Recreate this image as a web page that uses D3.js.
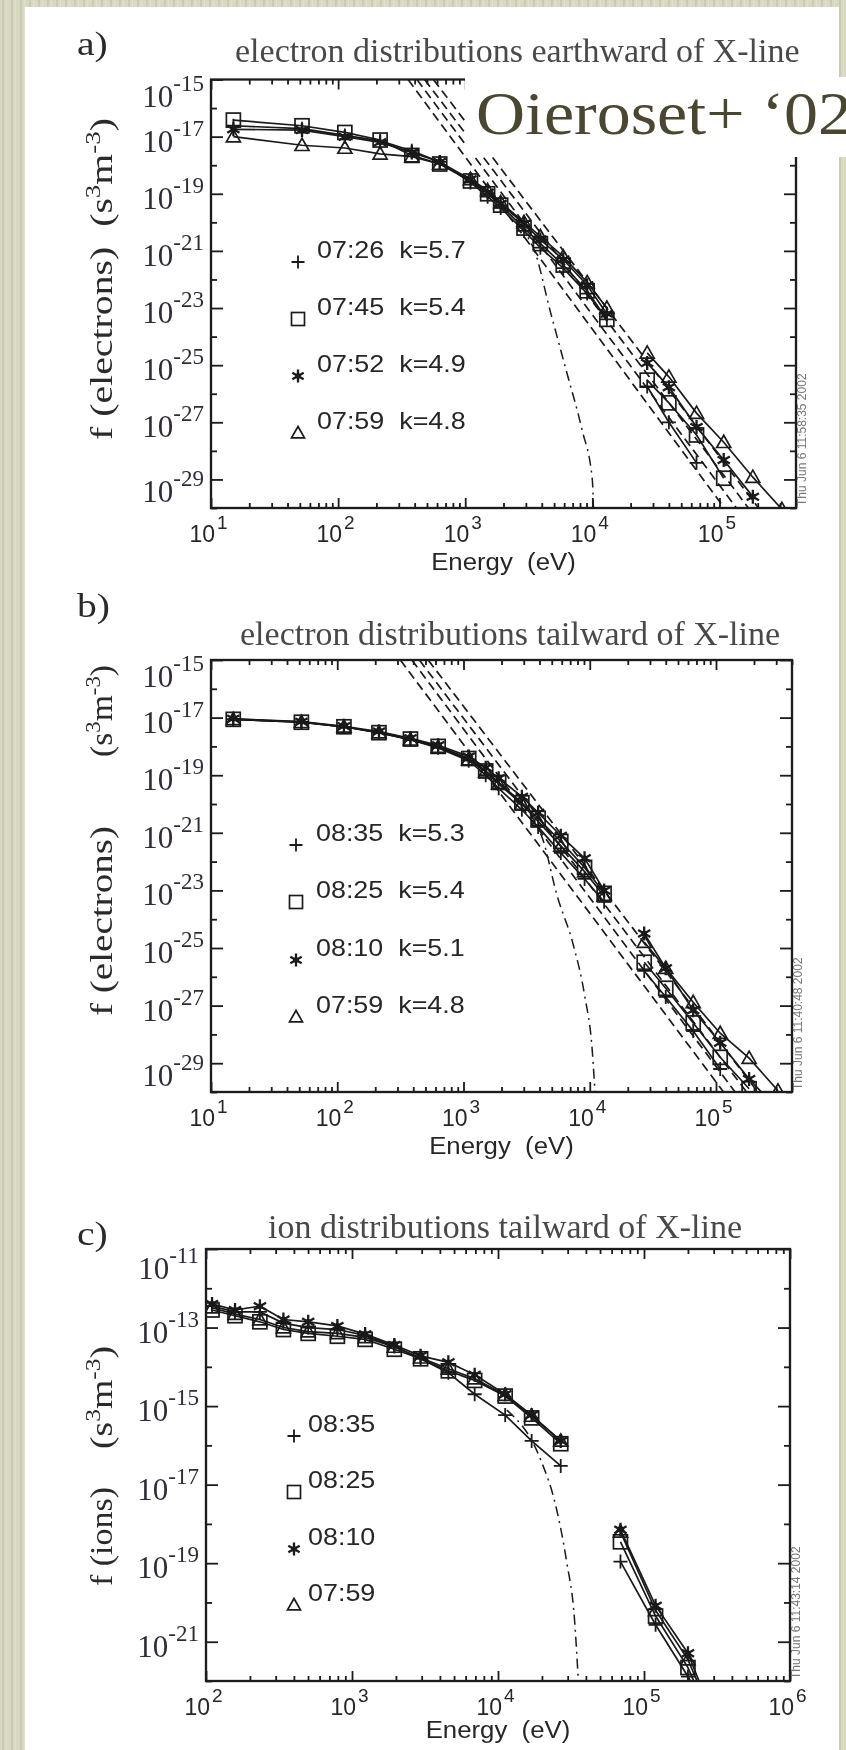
<!DOCTYPE html>
<html><head><meta charset="utf-8">
<script src="https://cdn.jsdelivr.net/npm/d3@7"></script>
<style>
html,body{margin:0;padding:0;background:#d6d6c0;}
svg{display:block}
</style></head>
<body>
<svg id="chart" width="846" height="1750"></svg>
<script>
// ================= DATA =================
// ---- Panel a: electron distributions earthward of X-line
const aEnergy    = [15, 52, 113, 214, 380, 630, 1100, 1500, 1900, 2900, 3900, 5900, 9100, 13000];
const aSstEnergy = [27000, 40000, 66000, 108000, 183000, 310000];
const aPlus   = [2.4e-17, 1.9e-17, 1.1e-17, 7.1e-18, 3.2e-18, 1.3e-18, 2.5e-19, 7.9e-20, 3.2e-20, 5.0e-21, 1.3e-21, 2.5e-22, 3.2e-23, 4.0e-24];
const aSquare = [3.8e-17, 2.4e-17, 1.4e-17, 7.6e-18, 2.2e-18, 1.1e-18, 2.8e-19, 1.0e-19, 4.0e-20, 6.3e-21, 1.8e-21, 3.2e-22, 4.0e-23, 4.0e-24];
const aStar   = [1.8e-17, 1.7e-17, 1.0e-17, 6.3e-18, 2.8e-18, 1.3e-18, 3.2e-19, 1.1e-19, 4.5e-20, 8.9e-21, 2.5e-21, 5.0e-22, 6.3e-23, 6.3e-24];
const aTri    = [1.0e-17, 5.0e-18, 4.0e-18, 2.5e-18, 2.0e-18, 1.1e-18, 3.2e-19, 1.3e-19, 5.0e-20, 1.0e-20, 3.2e-21, 6.3e-22, 7.9e-23, 1.0e-23];
const aPlusSst   = [1.8e-26, 1.0e-27, 3.8e-29];
const aSquareSst = [3.0e-26, 4.8e-27, 3.6e-28, 1.1e-29];
const aStarSst   = [1.2e-25, 1.7e-26, 6.9e-28, 4.8e-29, 2.5e-30];
const aTriSst    = [2.7e-25, 3.9e-26, 2.1e-27, 2.0e-28, 1.2e-29, 9.0e-31];
const aFitPlus   = [[355, 1e-15], [160000, 1e-31]];
const aFitSquare = [[417, 1e-15], [200000, 1e-31]];
const aFitStar   = [[479, 1e-15], [250000, 1e-31]];
const aFitTri    = [[562, 1e-15], [300000, 1e-31]];
const aMaxwell   = [[1100, 2.4e-19], [3400, 1.4e-21], [4700, 6.8e-24], [6300, 5.4e-26], [8300, 5.4e-28], [10000, 9.5e-30], [10200, 1e-30]];
const aLegend    = ["07:26  k=5.7", "07:45  k=5.4", "07:52  k=4.9", "07:59  k=4.8"];

// ---- Panel b: electron distributions tailward of X-line
const bEnergy    = [15, 52, 113, 214, 380, 630, 1100, 1500, 1900, 2900, 3900, 5900, 9100, 13000];
const bSstEnergy = [27000, 40000, 66000, 108000, 183000, 310000];
const bPlus   = [8.9e-18, 7.1e-18, 4.8e-18, 3.0e-18, 1.7e-18, 8.9e-19, 3.2e-19, 1.0e-19, 3.5e-20, 6.3e-21, 1.6e-21, 2.0e-22, 2.5e-23, 4.0e-24];
const bSquare = [8.7e-18, 6.9e-18, 4.8e-18, 3.0e-18, 1.8e-18, 1.0e-18, 3.8e-19, 1.4e-19, 5.6e-20, 1.1e-20, 3.2e-21, 5.0e-22, 6.3e-23, 7.9e-24];
const bStar   = [9.1e-18, 7.2e-18, 5.0e-18, 3.3e-18, 1.9e-18, 1.1e-18, 4.5e-19, 1.8e-19, 7.9e-20, 1.8e-20, 5.0e-21, 7.9e-22, 1.3e-22, 1.0e-23];
const bTri    = [8.7e-18, 6.9e-18, 4.8e-18, 3.0e-18, 1.7e-18, 9.5e-19, 3.5e-19, 1.3e-19, 5.0e-20, 1.0e-20, 2.5e-21, 3.5e-22, 4.5e-23, 6.3e-24];
const bPlusSst   = [1.6e-26, 2.0e-27, 1.3e-28, 6.3e-30];
const bSquareSst = [3.2e-26, 4.0e-27, 2.5e-28, 1.6e-29, 1.3e-30];
const bStarSst   = [3.2e-25, 2.0e-26, 6.9e-28, 5.1e-29, 2.8e-30, 2.5e-31];
const bTriSst    = [1.6e-25, 2.0e-26, 1.3e-27, 1.1e-28, 1.5e-29, 1.1e-30];
const bFitPlus   = [[316, 1e-15], [170000, 1e-31]];
const bFitSquare = [[390, 1e-15], [210000, 1e-31]];
const bFitStar   = [[447, 1e-15], [260000, 1e-31]];
const bFitTri    = [[525, 1e-15], [320000, 1e-31]];
const bMaxwell   = [[2500, 1.4e-20], [4200, 6.8e-22], [5500, 6.8e-24], [7400, 1.3e-25], [9100, 2.3e-27], [10500, 2.3e-29], [11000, 1e-30]];
const bLegend    = ["08:35  k=5.3", "08:25  k=5.4", "08:10  k=5.1", "07:59  k=4.8"];

// ---- Panel c: ion distributions tailward of X-line
const cEnergy    = [110, 158, 234, 339, 501, 794, 1230, 1950, 2950, 4570, 6920, 11200, 17000, 26900];
const cSstEnergy = [69000, 120000, 200000, 250000];
const cPlus   = [3.5e-13, 2.5e-13, 2.5e-13, 1.3e-13, 1.0e-13, 8.9e-14, 6.3e-14, 3.3e-14, 1.6e-14, 7.1e-15, 2.0e-15, 5.9e-16, 1.3e-16, 3.0e-17];
const cSquare = [2.8e-13, 2.0e-13, 1.4e-13, 8.9e-14, 7.1e-14, 6.0e-14, 5.0e-14, 2.8e-14, 1.6e-14, 7.9e-15, 4.5e-15, 1.8e-15, 5.0e-16, 1.1e-16];
const cStar   = [4.0e-13, 2.8e-13, 3.5e-13, 1.6e-13, 1.4e-13, 1.1e-13, 6.8e-14, 3.6e-14, 1.9e-14, 1.3e-14, 6.3e-15, 2.0e-15, 5.9e-16, 1.3e-16];
const cTri    = [3.2e-13, 2.2e-13, 1.6e-13, 1.0e-13, 7.9e-14, 7.1e-14, 5.6e-14, 3.2e-14, 1.7e-14, 8.9e-15, 5.0e-15, 1.9e-15, 5.6e-16, 1.3e-16];
const cPlusSst   = [1.1e-19, 2.7e-21, 1.3e-22, 2.5e-23];
const cSquareSst = [3.5e-19, 4.5e-21, 2.2e-22, 3.2e-23];
const cStarSst   = [7.1e-19, 8.3e-21, 5.1e-22, 6.3e-23];
const cTriSst    = [6.3e-19, 6.3e-21, 3.5e-22, 5.0e-23];
const cMaxwell   = [[11500, 7.9e-16], [19500, 4.5e-17], [25100, 2.5e-18], [29500, 1.1e-19], [33500, 3.3e-21], [35500, 1e-22]];
const cLegend    = ["08:35", "08:25", "08:10", "07:59"];

// tick label exponents
const aXLabels = [1, 2, 3, 4, 5];
const aYLabels = [-15, -17, -19, -21, -23, -25, -27, -29];
const bXLabels = [1, 2, 3, 4, 5];
const bYLabels = [-15, -17, -19, -21, -23, -25, -27, -29];
const cXLabels = [2, 3, 4, 5, 6];
const cYLabels = [-11, -13, -15, -17, -19, -21];

// ================= DRAWING =================
const svg = d3.select("#chart");
const defs = svg.append("defs");
const pat = defs.append("pattern").attr("id", "linen").attr("width", 9).attr("height", 6).attr("patternUnits", "userSpaceOnUse");
pat.append("rect").attr("width", 9).attr("height", 6).attr("fill", "#d8d8c3");
pat.append("rect").attr("x", 2).attr("width", 2).attr("height", 6).attr("fill", "#cbcbb2");
pat.append("rect").attr("x", 6).attr("width", 1).attr("height", 6).attr("fill", "#e0e0cd");
defs.append("filter").attr("id", "soft").attr("x", "-5%").attr("y", "-5%").attr("width", "110%").attr("height", "110%")
  .append("feGaussianBlur").attr("stdDeviation", 0.75);
svg.append("rect").attr("width", 846).attr("height", 1750).attr("fill", "url(#linen)");
svg.append("rect").attr("x", 25).attr("y", 7).attr("width", 814).attr("height", 1743).attr("fill", "#ffffff");

const INK = "#1a1a1a";
const SERIF = "'Liberation Serif','Times New Roman',serif";
const SANS = "'Liberation Sans',Arial,Helvetica,sans-serif";

function stretch(t, f) {
  const n = t.node();
  const len = n.getComputedTextLength();
  t.attr("textLength", (len * f).toFixed(1)).attr("lengthAdjust", "spacingAndGlyphs");
  return t;
}

function marker(g, type, cx, cy, s) {
  if (type === "plus") {
    g.append("path").attr("d", `M${cx - s},${cy}H${cx + s}M${cx},${cy - s}V${cy + s}`)
      .attr("fill", "none").attr("stroke", INK).attr("stroke-width", 1.8);
  } else if (type === "square") {
    g.append("rect").attr("x", cx - s).attr("y", cy - s).attr("width", 2 * s).attr("height", 2 * s)
      .attr("fill", "none").attr("stroke", INK).attr("stroke-width", 1.7);
  } else if (type === "star") {
    const dx = s * 0.87, dy = s * 0.5;
    g.append("path").attr("d", `M${cx},${cy - s}V${cy + s}M${cx - dx},${cy - dy}L${cx + dx},${cy + dy}M${cx - dx},${cy + dy}L${cx + dx},${cy - dy}`)
      .attr("fill", "none").attr("stroke", INK).attr("stroke-width", 2.3);
    g.append("circle").attr("cx", cx).attr("cy", cy).attr("r", 2.8).attr("fill", INK);
  } else {
    g.append("path").attr("d", `M${cx},${cy - s}L${cx + s},${cy + s * 0.75}L${cx - s},${cy + s * 0.75}Z`)
      .attr("fill", "none").attr("stroke", INK).attr("stroke-width", 1.7);
  }
}

const isPow10 = v => Math.abs(Math.log10(v) - Math.round(Math.log10(v))) < 1e-9;

function drawPanel(P) {
  const x = d3.scaleLog().domain(P.xDomain).range([P.left, P.right]);
  const y = d3.scaleLog().domain(P.yDomain).range([P.bottom, P.top]);
  const cid = "clip-" + P.key;
  defs.append("clipPath").attr("id", cid).append("rect")
    .attr("x", P.left).attr("y", P.top).attr("width", P.right - P.left).attr("height", P.bottom - P.top);
  const g = svg.append("g").attr("filter", "url(#soft)");
  const plot = g.append("g").attr("clip-path", `url(#${cid})`);
  const line = d3.line().x(d => x(d[0])).y(d => y(d[1]));

  // kappa fits (dashed)
  (P.fits || []).forEach(f => {
    plot.append("path").attr("d", line(f)).attr("fill", "none").attr("stroke", INK)
      .attr("stroke-width", 1.7).attr("stroke-dasharray", "9,5");
  });
  // Maxwellian (dash-dot)
  plot.append("path").attr("d", line.curve(d3.curveMonotoneX)(P.maxwell)).attr("fill", "none")
    .attr("stroke", INK).attr("stroke-width", 1.5).attr("stroke-dasharray", "10,5,2,5");
  line.curve(d3.curveLinear);

  // data series
  P.series.forEach(s => {
    const lo = P.energy.map((e, i) => [e, s.lo[i]]);
    const hi = s.hi.map((v, i) => [P.sstEnergy[i], v]);
    [lo, hi].forEach(pts => plot.append("path").attr("d", line(pts)).attr("fill", "none")
      .attr("stroke", INK).attr("stroke-width", 1.7));
    lo.concat(hi).forEach(p => marker(plot, s.sym, x(p[0]), y(p[1]), 7));
  });

  // axes
  const xt = x.ticks();
  const xMinor = xt.filter(v => !isPow10(v));
  const xMajor = xt.filter(v => isPow10(v));
  const expLo = Math.round(Math.log10(P.yDomain[0])), expHi = Math.round(Math.log10(P.yDomain[1]));
  const yAll = d3.range(expLo, expHi + 1).map(e => Math.pow(10, e));
  const yMajor = P.yLabels.map(e => Math.pow(10, e));
  const yMinor = yAll.filter(v => !P.yLabels.includes(Math.round(Math.log10(v))));
  const ax = (gen, tr) => {
    const a = g.append("g").attr("transform", tr).call(gen);
    a.select(".domain").remove();
    a.selectAll("line").attr("stroke", INK).attr("stroke-width", 1.8);
    a.selectAll("text").remove();
  };
  ax(d3.axisBottom(x).tickValues(xMinor).tickSize(-5).tickFormat(""), `translate(0,${P.bottom})`);
  ax(d3.axisBottom(x).tickValues(xMajor).tickSize(-10).tickFormat(""), `translate(0,${P.bottom})`);
  ax(d3.axisTop(x).tickValues(xMinor).tickSize(-5).tickFormat(""), `translate(0,${P.top})`);
  ax(d3.axisTop(x).tickValues(xMajor).tickSize(-10).tickFormat(""), `translate(0,${P.top})`);
  ax(d3.axisLeft(y).tickValues(yMinor).tickSize(-6).tickFormat(""), `translate(${P.left},0)`);
  ax(d3.axisLeft(y).tickValues(yMajor).tickSize(-12).tickFormat(""), `translate(${P.left},0)`);
  ax(d3.axisRight(y).tickValues(yMinor).tickSize(-6).tickFormat(""), `translate(${P.right},0)`);
  ax(d3.axisRight(y).tickValues(yMajor).tickSize(-12).tickFormat(""), `translate(${P.right},0)`);
  g.append("rect").attr("x", P.left).attr("y", P.top).attr("width", P.right - P.left).attr("height", P.bottom - P.top)
    .attr("fill", "none").attr("stroke", INK).attr("stroke-width", 2.3);

  // x tick labels
  P.xLabels.forEach(e => {
    const px = x(Math.pow(10, e));
    g.append("text").attr("x", px + 4).attr("y", P.bottom + 34).attr("text-anchor", "end")
      .attr("font-family", SANS).attr("font-size", 23).attr("fill", "#262626").text("10");
    g.append("text").attr("x", px + 6).attr("y", P.bottom + 21).attr("text-anchor", "start")
      .attr("font-family", SANS).attr("font-size", 19).attr("fill", "#262626").text(e);
  });
  // y tick labels
  const nL = P.yLabels.length;
  P.yLabels.forEach((e, i) => {
    const off = i === 0 ? P.yOffs[0] : (i === nL - 1 ? P.yOffs[2] : P.yOffs[1]);
    const py = y(Math.pow(10, e)) + off;
    const t = g.append("text").attr("x", P.left - 7).attr("y", py).attr("text-anchor", "end")
      .attr("font-family", SERIF).attr("fill", "#302c3a");
    t.append("tspan").attr("font-size", 31).text("10");
    t.append("tspan").attr("font-size", 23).attr("dy", -16).text(e);
  });
  // x axis title
  stretch(g.append("text").attr("x", (P.left + P.right) / 2).attr("y", P.xTitleY).attr("text-anchor", "middle")
    .attr("font-family", SANS).attr("font-size", 23).attr("fill", "#262626")
    .attr("xml:space", "preserve").style("white-space", "pre").text("Energy  (eV)"), 1.12);
  // panel title
  g.append("text").attr("x", P.titleX).attr("y", P.titleY).attr("font-family", SERIF)
    .attr("font-size", 34).attr("fill", "#484848").text(P.title);
  stretch(g.append("text").attr("x", 77).attr("y", P.tagY).attr("font-family", SERIF)
    .attr("font-size", 33).attr("fill", "#2a2a2a").text(P.tag), 1.2);
  // y axis title pieces (rotated)
  P.yTitle.forEach(part => {
    const t = g.append("text").attr("transform", `translate(${P.yTitleX},${part.y0}) rotate(-90)`)
      .attr("font-family", SERIF).attr("font-size", 31).attr("fill", "#2a2a2a")
      .attr("textLength", part.len).attr("lengthAdjust", "spacingAndGlyphs")
      .attr("xml:space", "preserve").style("white-space", "pre");
    part.spans.forEach(sp => {
      const ts = t.append("tspan").text(sp.t);
      if (sp.sup) ts.attr("font-size", 21).attr("dy", -12);
      if (sp.back) ts.attr("dy", 12);
    });
  });
  // legend
  P.legend.forEach((txt, i) => {
    const by = P.legY[i];
    marker(g, P.series[i].sym, P.legMarkX, by + 4, 6.5);
    stretch(g.append("text").attr("x", P.legTextX).attr("y", by).attr("font-family", SANS).attr("font-size", 24)
      .attr("fill", "#262626").attr("xml:space", "preserve").style("white-space", "pre").text(txt), 1.12);
  });
  // IDL time stamp
  g.append("text").attr("transform", `translate(${P.right + 10},${P.bottom - 2}) rotate(-90)`)
    .attr("font-family", SANS).attr("font-size", 12).attr("fill", "#777").text(P.stamp);
}

const unitSpans = [{t: "(s"}, {t: "3", sup: true}, {t: "m", back: true}, {t: "-3", sup: true}, {t: ")", back: true}];

drawPanel({
  key: "a", left: 211, right: 796, top: 79.5, bottom: 508,
  xDomain: [10, 4e5], yDomain: [1e-30, 1e-15],
  energy: aEnergy, sstEnergy: aSstEnergy,
  series: [
    {sym: "plus", lo: aPlus, hi: aPlusSst},
    {sym: "square", lo: aSquare, hi: aSquareSst},
    {sym: "star", lo: aStar, hi: aStarSst},
    {sym: "tri", lo: aTri, hi: aTriSst}],
  fits: [aFitPlus, aFitSquare, aFitStar, aFitTri], maxwell: aMaxwell,
  xLabels: aXLabels, yLabels: aYLabels, yOffs: [27, 15, 23],
  xTitleY: 570, title: "electron distributions earthward of X-line", titleX: 235, titleY: 62,
  tag: "a)", tagY: 55,
  yTitleX: 112, yTitle: [{y0: 440, len: 322, spans: [{t: "f (electrons)  "}].concat(unitSpans)}],
  legend: aLegend, legY: [258, 315, 372, 429], legMarkX: 298, legTextX: 317,
  stamp: "Thu Jun  6 11:58:35 2002"
});
drawPanel({
  key: "b", left: 211, right: 792, top: 660, bottom: 1092,
  xDomain: [10, 4e5], yDomain: [1e-30, 1e-15],
  energy: bEnergy, sstEnergy: bSstEnergy,
  series: [
    {sym: "plus", lo: bPlus, hi: bPlusSst},
    {sym: "square", lo: bSquare, hi: bSquareSst},
    {sym: "star", lo: bStar, hi: bStarSst},
    {sym: "tri", lo: bTri, hi: bTriSst}],
  fits: [bFitPlus, bFitSquare, bFitStar, bFitTri], maxwell: bMaxwell,
  xLabels: bXLabels, yLabels: bYLabels, yOffs: [27, 15, 23],
  xTitleY: 1154, title: "electron distributions tailward of X-line", titleX: 240, titleY: 645,
  tag: "b)", tagY: 617,
  yTitleX: 112, yTitle: [{y0: 1016, len: 190, spans: [{t: "f (electrons)"}]}, {y0: 757, len: 92, spans: unitSpans}],
  legend: bLegend, legY: [841, 898, 956, 1013], legMarkX: 296, legTextX: 316,
  stamp: "Thu Jun  6 11:40:48 2002"
});
drawPanel({
  key: "c", left: 206, right: 790, top: 1249, bottom: 1681,
  xDomain: [100, 1e6], yDomain: [1e-22, 1e-11],
  energy: cEnergy, sstEnergy: cSstEnergy,
  series: [
    {sym: "plus", lo: cPlus, hi: cPlusSst},
    {sym: "square", lo: cSquare, hi: cSquareSst},
    {sym: "star", lo: cStar, hi: cStarSst},
    {sym: "tri", lo: cTri, hi: cTriSst}],
  fits: [], maxwell: cMaxwell,
  xLabels: cXLabels, yLabels: cYLabels, yOffs: [30, 15, 15],
  xTitleY: 1738, title: "ion distributions tailward of X-line", titleX: 268, titleY: 1238,
  tag: "c)", tagY: 1245,
  yTitleX: 112, yTitle: [{y0: 1586, len: 99, spans: [{t: "f (ions)"}]}, {y0: 1449, len: 103, spans: unitSpans}],
  legend: cLegend, legY: [1432, 1488, 1545, 1601], legMarkX: 294, legTextX: 308,
  stamp: "Thu Jun  6 11:43:14 2002"
});

// overlay label box
svg.append("rect").attr("x", 465).attr("y", 77).attr("width", 381).attr("height", 80).attr("fill", "#ffffff");
svg.append("text").attr("x", 476).attr("y", 134).attr("font-family", SERIF).attr("font-size", 62)
  .attr("fill", "#4a4630").attr("textLength", 376).attr("lengthAdjust", "spacingAndGlyphs")
  .text("Oieroset+ \u201802");
</script>
</body></html>
